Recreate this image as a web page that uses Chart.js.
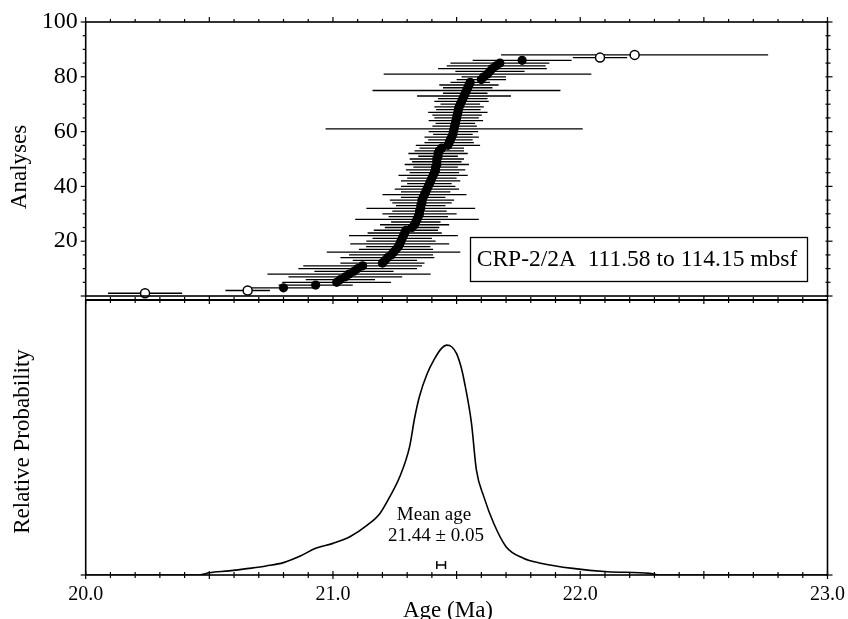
<!DOCTYPE html>
<html>
<head>
<meta charset="utf-8">
<script src="https://cdn.jsdelivr.net/npm/chart.js@4.4.1/dist/chart.umd.min.js"></script>
<style>
body { margin: 0; background: #fff; }
#wrap { position: relative; width: 848px; height: 619px; }
#top { position: absolute; left: 0; top: 0; }
#bottom { position: absolute; left: 0; top: 290px; }
</style>
</head>
<body>
<div id="wrap">
<canvas id="top" width="848" height="302"></canvas>
<canvas id="bottom" width="848" height="329"></canvas>
</div>
<script>
// single-grain ages (Ma), analysis number = index + 1
var ages = [
  20.24, 20.655, 20.80, 20.93, 21.015, 21.03, 21.05, 21.065, 21.085, 21.10,
  21.12, 21.20, 21.21, 21.22, 21.235, 21.245, 21.255, 21.264, 21.27, 21.275,
  21.28, 21.285, 21.29, 21.295, 21.32, 21.33, 21.335, 21.34, 21.345, 21.35,
  21.35, 21.355, 21.355, 21.36, 21.36, 21.365, 21.37, 21.375, 21.38, 21.385,
  21.39, 21.395, 21.40, 21.405, 21.41, 21.415, 21.415, 21.42, 21.42, 21.42,
  21.425, 21.425, 21.43, 21.44, 21.465, 21.47, 21.475, 21.48, 21.485, 21.487,
  21.49, 21.492, 21.495, 21.497, 21.50, 21.502, 21.505, 21.507, 21.51, 21.515,
  21.52, 21.525, 21.53, 21.535, 21.54, 21.545, 21.55, 21.555, 21.60, 21.61,
  21.625, 21.635, 21.645, 21.66, 21.675, 21.765, 22.08, 22.22
];
// 1 sigma errors (Ma)
var errs = [
  0.15, 0.09, 0.13, 0.15, 0.22, 0.14, 0.23, 0.33, 0.16, 0.24,
  0.24, 0.17, 0.13, 0.19, 0.17, 0.27, 0.15, 0.13, 0.20, 0.14,
  0.12, 0.22, 0.15, 0.13, 0.11, 0.14, 0.10, 0.25, 0.12, 0.15,
  0.11, 0.22, 0.10, 0.12, 0.13, 0.09, 0.17, 0.10, 0.13, 0.11,
  0.09, 0.12, 0.10, 0.14, 0.10, 0.12, 0.09, 0.13, 0.10, 0.11,
  0.08, 0.12, 0.10, 0.09, 0.13, 0.10, 0.09, 0.11, 0.08, 0.10,
  0.52, 0.09, 0.08, 0.11, 0.09, 0.10, 0.12, 0.09, 0.10, 0.08,
  0.11, 0.10, 0.19, 0.09, 0.38, 0.10, 0.12, 0.08, 0.10, 0.09,
  0.42, 0.14, 0.22, 0.20, 0.20, 0.20, 0.11, 0.54
];
// analyses left out of the mean (open symbols)
var excluded = [1, 2, 87, 88];

// probability curve
var probAges = [20.0, 20.46, 20.50, 20.58, 20.66, 20.73, 20.80, 20.87, 20.93, 21.00,
  21.07, 21.14, 21.19, 21.23, 21.27, 21.31, 21.33, 21.35, 21.38, 21.41,
  21.44, 21.46, 21.48, 21.50, 21.52, 21.53, 21.56, 21.58, 21.61, 21.65,
  21.70, 21.77, 21.84, 21.97, 22.11, 22.28, 22.32, 23.0];
var probVals = [0, 0, 0.8, 1.5, 2.4, 3.3, 4.5, 7.0, 9.7, 11.5,
  14.0, 18.2, 22.4, 28.5, 35.7, 46.7, 57.0, 65.0, 73.0, 78.5,
  82.5, 83.6, 83.0, 80.5, 75.0, 70.9, 55.3, 38.2, 28.5, 18.8,
  10.3, 6.1, 4.3, 2.4, 1.2, 0.6, 0, 0];

var meanAge = 21.44, meanErr = 0.05;
var meanBar = [21.42, 21.455];

var xTickLabels = ['20.0', '21.0', '22.0', '23.0'];
var yTickLabels = [20, 40, 60, 80, 100];

var FONT = '"Liberation Serif", "Times New Roman", serif';

var filled = [], open = [], bars = [];
ages.forEach(function (a, i) {
  var n = i + 1;
  (excluded.indexOf(n) >= 0 ? open : filled).push({x: a, y: n});
  bars.push({x: a - errs[i], y: n}, {x: a + errs[i], y: n}, {x: a, y: null});
});

function tick(ctx, x1, y1, x2, y2) {
  ctx.beginPath();
  ctx.moveTo(x1, y1);
  ctx.lineTo(x2, y2);
  ctx.stroke();
}

// 0.1 Ma ticks, longer every 0.5
function ageTicks(ctx, xs, y, up, down) {
  for (var k = 0; k <= 30; k++) {
    var x = xs.getPixelForValue(20 + k / 10);
    var big = k % 5 === 0;
    tick(ctx, x, y - (big ? up[1] : up[0]), x, y + (big ? down[1] : down[0]));
  }
}

var topFrame = {
  id: 'topFrame',
  afterDraw: function (chart) {
    var ctx = chart.ctx, a = chart.chartArea, xs = chart.scales.x, ys = chart.scales.y;
    ctx.save();
    ctx.strokeStyle = '#000';
    ctx.fillStyle = '#000';
    ctx.lineWidth = 1.6;
    ctx.strokeRect(a.left, a.top, a.right - a.left, a.bottom - a.top);
    ctx.lineWidth = 1.2;
    ageTicks(ctx, xs, a.top, [3, 5], [0, 0]);
    for (var v = 0; v <= 100; v += 5) {
      var y = ys.getPixelForValue(v);
      var big = v % 20 === 0;
      tick(ctx, a.left - (big ? 5 : 3), y, a.left, y);
      tick(ctx, a.right - 2, y, a.right + (big ? 5 : 3), y);
    }
    ctx.font = '24px ' + FONT;
    ctx.textAlign = 'right';
    ctx.textBaseline = 'middle';
    yTickLabels.forEach(function (t) {
      ctx.fillText(String(t), a.left - 8, ys.getPixelForValue(t));
    });
    ctx.font = '23px ' + FONT;
    ctx.textAlign = 'center';
    ctx.save();
    ctx.translate(20, 167);
    ctx.rotate(-Math.PI / 2);
    ctx.fillText('Analyses', 0, 0);
    ctx.restore();
    // sample label
    ctx.lineWidth = 1.3;
    ctx.fillStyle = '#fff';
    ctx.fillRect(470, 237, 337, 44);
    ctx.strokeRect(470.5, 237.5, 337, 44);
    ctx.fillStyle = '#000';
    ctx.font = '23.5px ' + FONT;
    ctx.fillText('CRP-2/2A  111.58 to 114.15 mbsf', 637, 260);
    ctx.restore();
  }
};

var bottomFrame = {
  id: 'bottomFrame',
  afterDraw: function (chart) {
    var ctx = chart.ctx, a = chart.chartArea, xs = chart.scales.x, ys = chart.scales.y;
    ctx.save();
    ctx.strokeStyle = '#000';
    ctx.fillStyle = '#000';
    ctx.lineWidth = 1.6;
    ctx.strokeRect(a.left, a.top, a.right - a.left, a.bottom - a.top);
    ctx.lineWidth = 2;
    tick(ctx, a.left, a.top, a.right, a.top);
    ctx.lineWidth = 1.2;
    ageTicks(ctx, xs, a.top, [3, 4], [3, 4]);
    ageTicks(ctx, xs, a.bottom, [3, 4], [3, 4]);
    var y0 = ys.getPixelForValue(0);
    tick(ctx, a.left - 5, y0, a.left, y0);
    tick(ctx, a.right - 2, y0, a.right + 5, y0);
    // mean age error bar
    var yb = a.bottom - 10;
    var x1 = xs.getPixelForValue(meanBar[0]), x2 = xs.getPixelForValue(meanBar[1]);
    ctx.lineWidth = 1.5;
    tick(ctx, x1, yb, x2, yb);
    tick(ctx, x1, yb - 4, x1, yb + 4);
    tick(ctx, x2, yb - 4, x2, yb + 4);

    ctx.textAlign = 'center';
    ctx.textBaseline = 'middle';
    ctx.font = '20px ' + FONT;
    xTickLabels.forEach(function (t) {
      ctx.fillText(t, xs.getPixelForValue(parseFloat(t)), a.bottom + 20);
    });
    ctx.font = '23px ' + FONT;
    ctx.fillText('Age (Ma)', 448, a.bottom + 36);
    ctx.save();
    ctx.translate(23, 151.5);
    ctx.rotate(-Math.PI / 2);
    ctx.fillText('Relative Probability', 0, 0);
    ctx.restore();
    ctx.font = '19px ' + FONT;
    ctx.fillText('Mean age', 434, 225);
    ctx.fillText(meanAge.toFixed(2) + ' \u00b1 ' + meanErr.toFixed(2), 436, 246);
    ctx.restore();
  }
};

new Chart(document.getElementById('top'), {
  type: 'scatter',
  data: {
    datasets: [
      { data: filled, pointRadius: 4.6, pointBackgroundColor: '#000', pointBorderWidth: 0, order: 0, clip: false },
      { data: open, pointRadius: 4.5, pointBackgroundColor: '#fff', pointBorderColor: '#000', pointBorderWidth: 1.5, order: 0, clip: false },
      { type: 'line', data: bars, showLine: true, borderColor: '#000', borderWidth: 1.3, pointRadius: 0, spanGaps: false, order: 1 }
    ]
  },
  options: {
    responsive: false,
    animation: false,
    devicePixelRatio: 1,
    layout: { padding: { left: 85.7, right: 20.5, top: 22, bottom: 2 } },
    plugins: { legend: { display: false }, tooltip: { enabled: false } },
    scales: {
      x: { type: 'linear', min: 20, max: 23, display: false },
      y: { type: 'linear', min: 0, max: 100, display: false }
    }
  },
  plugins: [topFrame]
});

new Chart(document.getElementById('bottom'), {
  type: 'line',
  data: {
    datasets: [{
      data: probAges.map(function (a, i) { return {x: a, y: probVals[i]}; }),
      borderColor: '#000',
      borderWidth: 1.6,
      pointRadius: 0,
      cubicInterpolationMode: 'monotone'
    }]
  },
  options: {
    responsive: false,
    animation: false,
    devicePixelRatio: 1,
    layout: { padding: { left: 85.7, right: 20.5, top: 10, bottom: 44 } },
    plugins: { legend: { display: false }, tooltip: { enabled: false } },
    scales: {
      x: { type: 'linear', min: 20, max: 23, display: false },
      y: { type: 'linear', min: 0, max: 100, display: false }
    }
  },
  plugins: [bottomFrame]
});
</script>
</body>
</html>
